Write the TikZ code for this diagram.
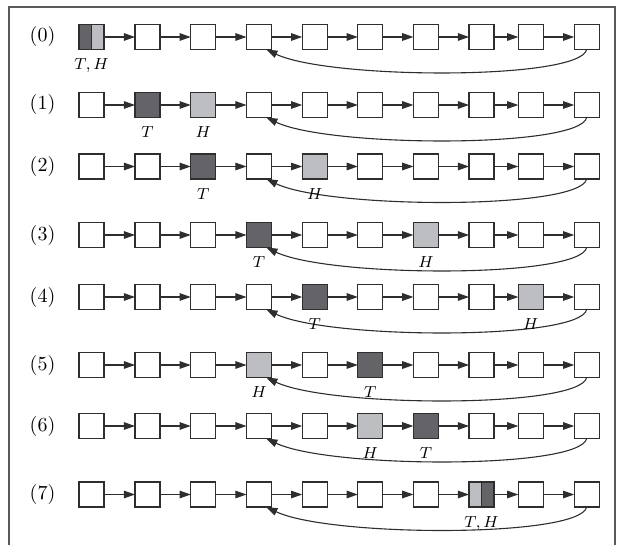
\documentclass[tikz,border=0pt]{standalone}
\usepackage{amsmath}
\usepackage{tikz}
\usetikzlibrary{positioning,arrows.meta}
\usepackage{xcolor}
\definecolor{tortoiseGray}{HTML}{646468}
\definecolor{hareGray}{HTML}{BDBEC2}
\definecolor{inkGray}{HTML}{2E2E2E}
\definecolor{frameGray}{HTML}{5A5A5A}

\begin{document}
\begin{tikzpicture}[
    x=0.5pt, y=-0.5pt,
    every node/.style={font=\normalsize},
    cellBox/.style={draw=inkGray, line width=0.6pt, fill=white, minimum size=12.5pt, inner sep=0pt, outer sep=0pt},
    tortoiseCell/.style={cellBox, fill=tortoiseGray},
    hareCell/.style={cellBox, fill=hareGray},
    splitCell/.style 2 args={cellBox, path picture={
        \fill[#1] (path picture bounding box.south west) rectangle (path picture bounding box.north);
        \fill[#2] (path picture bounding box.south) rectangle (path picture bounding box.north east);
        \draw[inkGray, line width=0.6pt] (path picture bounding box.south) -- (path picture bounding box.north);}},
    nextArrow/.style={-{Triangle[length=5.6pt, width=3.8pt]}, draw=inkGray, line width=0.55pt},
    pointerLabel/.style={font=\footnotesize, inner sep=1pt},
    frameLine/.style={draw=frameGray, line width=0.6pt}
]
    % Cornice (aperta in basso)
    \useasboundingbox (0,0) rectangle (619,545);
    \draw[frameLine] (9,545) -- (9,7) -- (615,7) -- (615,545);

    % Righe: indice / quota / posizione di T / posizione di H
    \foreach \rw/\rowY/\tPos/\hPos in {0/37/0/0, 1/105/1/2, 2/166.5/2/4, 3/235/3/6,
                                       4/297/4/8, 5/365/5/3, 6/426/6/5, 7/494.5/7/7} {
        \node (step\rw) at (42.5,\rowY) {(\rw)};

        % Caselle della lista
        \foreach \cl/\cx in {0/91.5, 1/147.5, 2/203.2, 3/259, 4/314.7,
                             5/370.3, 6/425.9, 7/481.5, 8/530.8, 9/586.7} {
            \ifnum\cl=\tPos \def\cellSty{tortoiseCell}
            \else\ifnum\cl=\hPos \def\cellSty{hareCell}
            \else \def\cellSty{cellBox}\fi\fi
            \node[\cellSty] (r\rw c\cl) at (\cx,\rowY) {};
        }

        % Puntatori next
        \foreach \cl [count=\nx from 1] in {0,...,8}
            \draw[nextArrow] (r\rw c\cl) -- (r\rw c\nx);

        % Arco di ritorno del ciclo
        \draw[nextArrow] (r\rw c9.south) .. controls +(-7,31) and +(63,30) .. (r\rw c3.-60);

        % Etichette T e H
        \ifnum\tPos=\hPos
            \node[pointerLabel, below=3.5pt of r\rw c\tPos] (th\rw) {$T,H$};
        \else
            \node[pointerLabel, below=3.5pt of r\rw c\tPos] (t\rw) {$T$};
            \node[pointerLabel, below=3.5pt of r\rw c\hPos] (h\rw) {$H$};
        \fi
    }

    % Caselle condivise da T e H
    \node[splitCell={tortoiseGray}{hareGray}] at (r0c0) {};
    \node[splitCell={hareGray}{tortoiseGray}] at (r7c7) {};
\end{tikzpicture}
\end{document}
